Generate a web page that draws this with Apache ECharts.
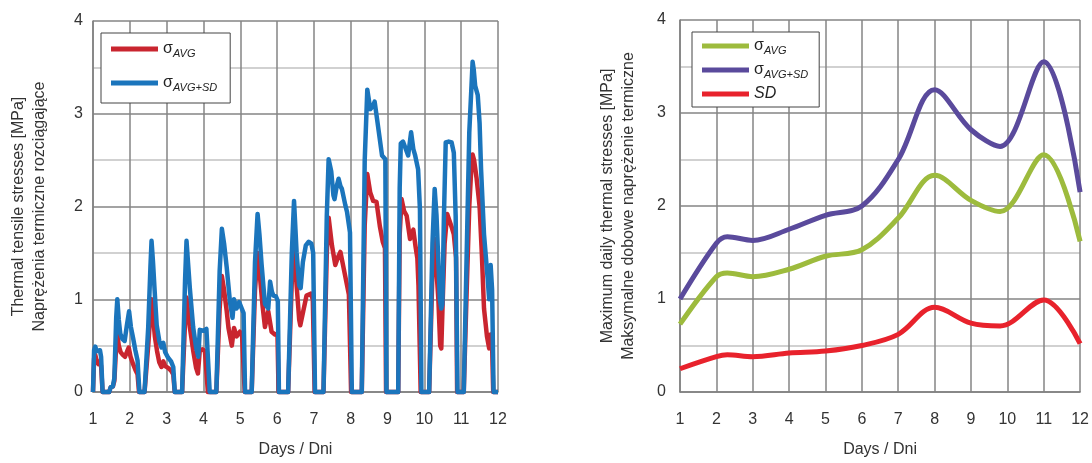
<!DOCTYPE html>
<html><head><meta charset="utf-8">
<script src="https://cdn.jsdelivr.net/npm/echarts@6/dist/echarts.min.js"></script>
<style>html,body{margin:0;padding:0;background:#fff}#c{width:1092px;height:463px}</style>
</head><body><div id="c"></div>
<script>
const dayTicks = [1,2,3,4,5,6,7,8,9,10,11,12];
const yTicks = [0,1,2,3,4];

// Left chart: hourly thermal tensile stresses [day, MPa]
const leftSigmaAvgSd = [
 [1.00,0],[1.03,0.45],[1.06,0.49],[1.10,0.44],[1.15,0.42],[1.19,0.45],[1.22,0.38],[1.26,0],
 [1.44,0],[1.48,0.05],[1.54,0.06],[1.58,0.15],[1.63,0.8],[1.66,1.0],[1.70,0.78],[1.74,0.63],[1.80,0.57],[1.86,0.55],[1.92,0.72],[1.98,0.87],[2.03,0.7],[2.09,0.58],[2.15,0.45],[2.21,0.34],[2.26,0],
 [2.40,0],[2.50,0.7],[2.56,1.35],[2.59,1.63],[2.63,1.4],[2.67,1.12],[2.73,0.72],[2.80,0.55],[2.86,0.48],[2.91,0.53],[2.96,0.43],[3.04,0.37],[3.12,0.33],[3.18,0.27],[3.22,0],
 [3.42,0],[3.50,1.2],[3.54,1.63],[3.58,1.4],[3.63,1.12],[3.72,0.7],[3.80,0.48],[3.86,0.38],[3.90,0.67],[4.00,0.66],[4.08,0.68],[4.13,0.66],[4.17,0],
 [4.35,0],[4.44,1.3],[4.50,1.76],[4.56,1.6],[4.63,1.35],[4.72,0.97],[4.79,0.8],[4.83,1.0],[4.90,0.9],[4.97,0.97],[5.04,0.9],[5.09,0.85],[5.13,0],
 [5.31,0],[5.40,1.4],[5.47,1.92],[5.52,1.7],[5.58,1.37],[5.67,0.95],[5.76,0.9],[5.81,1.19],[5.86,1.08],[5.90,1.04],[5.97,1.03],[6.02,0.98],[6.05,0],
 [6.30,0],[6.40,1.5],[6.46,2.06],[6.53,1.5],[6.60,1.15],[6.64,1.12],[6.70,1.4],[6.78,1.58],[6.86,1.62],[6.93,1.6],[6.98,1.5],[7.03,0],
 [7.26,0],[7.35,1.9],[7.40,2.51],[7.47,2.38],[7.53,2.12],[7.56,2.08],[7.62,2.22],[7.67,2.3],[7.72,2.22],[7.76,2.19],[7.85,2.02],[7.90,1.94],[7.98,1.72],[8.03,0],
 [8.30,0],[8.38,2.5],[8.45,3.26],[8.53,3.05],[8.60,3.08],[8.65,3.13],[8.74,2.87],[8.85,2.55],[8.94,2.51],[8.97,0],
 [9.29,0],[9.33,2.2],[9.36,2.68],[9.42,2.7],[9.47,2.7],[9.56,2.55],[9.64,2.8],[9.70,2.62],[9.75,2.55],[9.83,2.4],[9.88,1.97],[9.92,0],
 [10.13,0],[10.22,1.6],[10.28,2.19],[10.33,1.9],[10.37,1.5],[10.42,1.0],[10.46,0.9],[10.49,0.95],[10.53,1.87],[10.58,2.69],[10.66,2.7],[10.74,2.69],[10.80,2.58],[10.85,1.9],[10.90,0],
 [11.07,0],[11.15,1.5],[11.22,2.8],[11.28,3.3],[11.31,3.56],[11.34,3.48],[11.38,3.3],[11.45,3.2],[11.50,2.9],[11.54,2.4],[11.62,1.7],[11.72,1.22],[11.76,1.0],[11.80,1.37],[11.84,1.1],[11.88,0],[12.00,0]
];
const leftSigmaAvg = [
 [1.00,0],[1.03,0.36],[1.06,0.4],[1.10,0.34],[1.15,0.3],[1.19,0.33],[1.22,0.28],[1.26,0],
 [1.44,0],[1.48,0.05],[1.54,0.06],[1.58,0.12],[1.63,0.5],[1.66,0.62],[1.70,0.5],[1.75,0.43],[1.81,0.4],[1.87,0.38],[1.93,0.44],[1.97,0.48],[2.02,0.38],[2.09,0.3],[2.15,0.24],[2.21,0.19],[2.25,0],
 [2.40,0],[2.50,0.5],[2.56,0.85],[2.59,1.0],[2.63,0.82],[2.68,0.6],[2.74,0.44],[2.80,0.32],[2.86,0.27],[2.91,0.33],[2.96,0.28],[3.04,0.26],[3.12,0.23],[3.18,0.19],[3.22,0],
 [3.42,0],[3.50,0.75],[3.54,1.02],[3.58,0.88],[3.63,0.7],[3.72,0.45],[3.80,0.26],[3.85,0.2],[3.90,0.45],[3.97,0.46],[4.04,0.44],[4.08,0.42],[4.12,0],
 [4.35,0],[4.44,0.9],[4.50,1.25],[4.56,1.1],[4.63,0.88],[4.68,0.69],[4.77,0.5],[4.83,0.69],[4.90,0.6],[4.99,0.65],[5.05,0.6],[5.09,0.58],[5.12,0],
 [5.31,0],[5.40,1.1],[5.47,1.5],[5.54,1.22],[5.60,0.95],[5.67,0.7],[5.76,0.87],[5.85,0.65],[5.94,0.62],[6.01,0.63],[6.04,0],
 [6.30,0],[6.40,1.2],[6.46,1.55],[6.53,1.15],[6.60,0.78],[6.63,0.72],[6.71,0.87],[6.80,1.04],[6.91,1.06],[6.97,1.0],[7.02,0],
 [7.26,0],[7.35,1.5],[7.40,1.88],[7.49,1.58],[7.58,1.37],[7.65,1.45],[7.72,1.51],[7.81,1.33],[7.90,1.15],[7.95,1.05],[8.01,0],
 [8.30,0],[8.38,1.8],[8.45,2.35],[8.53,2.15],[8.61,2.06],[8.70,2.05],[8.79,1.79],[8.87,1.62],[8.93,1.55],[8.96,0],
 [9.29,0],[9.33,1.7],[9.38,2.08],[9.45,1.95],[9.52,1.9],[9.61,1.65],[9.70,1.75],[9.76,1.57],[9.81,1.44],[9.84,1.15],[9.90,0],
 [10.13,0],[10.22,1.3],[10.28,1.65],[10.33,1.3],[10.38,1.0],[10.43,0.5],[10.46,0.47],[10.50,1.0],[10.55,1.6],[10.62,1.92],[10.68,1.85],[10.74,1.78],[10.80,1.7],[10.86,1.45],[10.89,0],
 [11.07,0],[11.15,1.1],[11.22,2.0],[11.28,2.45],[11.31,2.56],[11.35,2.5],[11.42,2.3],[11.50,2.0],[11.56,1.5],[11.62,0.9],[11.70,0.6],[11.76,0.47],[11.80,0.62],[11.84,0.5],[11.87,0],[12.00,0]
];

// Right chart: maximum daily thermal stresses
const rightDays     = [1, 2, 2.3, 3, 4, 5, 6, 7, 8, 9, 9.8, 11, 12];
const rightSigmaAvg   = [0.73,1.24,1.28,1.24,1.32,1.46,1.53,1.87,2.33,2.06,1.94,2.55,1.62];
const rightSigmaAvgSd = [1.00,1.60,1.67,1.63,1.75,1.90,2.00,2.50,3.25,2.82,2.64,3.55,2.15];
const rightSd         = [0.25,0.38,0.40,0.38,0.42,0.44,0.50,0.62,0.91,0.74,0.71,0.99,0.52];

const leftYTitle = 'Thermal tensile stresses [MPa]\nNaprężenia termiczne rozciągające';
const rightYTitle = 'Maximum daily thermal stresses [MPa]\nMaksymalne dobowe naprężenie termiczne';
const xTitle = 'Days / Dni';

const FONT = "'Liberation Sans', Arial, sans-serif";
const pair = (xs, ys) => xs.map((x, i) => [x, ys[i]]);

const legendLabels = {
  'σAVG': '{s|σ}{sub|AVG}',
  'σAVG+SD': '{s|σ}{sub|AVG+SD}',
  'σAVG (max)': '{s|σ}{sub|AVG}',
  'σAVG+SD (max)': '{s|σ}{sub|AVG+SD}',
  'SD (max)': '{it|SD}'
};
const legendRich = {
  s: {fontSize: 16, lineHeight: 20, fontFamily: FONT, color: '#222'},
  sub: {fontSize: 11, lineHeight: 10, fontStyle: 'italic', verticalAlign: 'bottom', fontFamily: FONT, color: '#222'},
  it: {fontSize: 16, lineHeight: 20, fontStyle: 'italic', fontFamily: FONT, color: '#222'}
};

function xAxisCfg(gi) {
  return {
    type: 'value', gridIndex: gi, min: 1, max: 12, interval: 1,
    name: xTitle, nameLocation: 'middle', nameGap: 50,
    nameTextStyle: {fontSize: 16, color: '#333', fontFamily: FONT},
    axisLine: {show: true, onZero: false, lineStyle: {color: '#808080', width: 1.5}},
    axisTick: {show: false},
    axisLabel: {fontSize: 16, color: '#333', fontFamily: FONT, margin: 20},
    splitLine: {show: true, lineStyle: {color: '#858585', width: 1.5}}
  };
}
function yAxisCfg(gi, title, margin, gap) {
  return {
    type: 'value', gridIndex: gi, min: 0, max: 4, interval: 1,
    name: title, nameLocation: 'middle', nameRotate: 90, nameGap: gap,
    nameTextStyle: {fontSize: 16, lineHeight: 21, color: '#333', fontFamily: FONT, align: 'center'},
    axisLine: {show: true, lineStyle: {color: '#808080', width: 1.5}},
    axisTick: {show: false},
    minorTick: {show: false, splitNumber: 2},
    minorSplitLine: {show: true, lineStyle: {color: '#c2c2c2', width: 1.5}},
    axisLabel: {fontSize: 16, color: '#333', fontFamily: FONT, margin: margin},
    splitLine: {show: true, lineStyle: {color: '#858585', width: 1.5}}
  };
}

const chart = echarts.init(document.getElementById('c'), null, {renderer: 'canvas'});
chart.setOption({
  backgroundColor: '#fff',
  animation: false,
  textStyle: {fontFamily: FONT},
  grid: [
    {left: 93, top: 21, width: 405, height: 373},
    {left: 680, top: 20, width: 403, height: 375}
  ],
  xAxis: [xAxisCfg(0), xAxisCfg(1)],
  yAxis: [yAxisCfg(0, leftYTitle, 10, 42.5), yAxisCfg(1, rightYTitle, 14, 40.5)],
  legend: [
    {
      left: 101, top: 33, orient: 'vertical',
      padding: [8, 13, 10, 10], itemGap: 16, itemWidth: 47, itemHeight: 5, icon: 'rect',
      borderColor: '#444', borderWidth: 1, backgroundColor: '#fff',
      data: ['σAVG', 'σAVG+SD'],
      formatter: n => legendLabels[n],
      textStyle: {rich: legendRich}
    },
    {
      left: 692, top: 32, orient: 'vertical',
      padding: [6, 11, 5, 10], itemGap: 6, itemWidth: 47, itemHeight: 5, icon: 'rect',
      borderColor: '#444', borderWidth: 1, backgroundColor: '#fff',
      data: ['σAVG (max)', 'σAVG+SD (max)', 'SD (max)'],
      formatter: n => legendLabels[n],
      textStyle: {rich: legendRich}
    }
  ],
  series: [
    {name: 'σAVG', type: 'line', xAxisIndex: 0, yAxisIndex: 0, data: leftSigmaAvg,
     symbol: 'none', clip: false, color: '#c9252f', lineStyle: {width: 4.5, color: '#c9252f', join: 'round'}, z: 3},
    {name: 'σAVG+SD', type: 'line', xAxisIndex: 0, yAxisIndex: 0, data: leftSigmaAvgSd,
     symbol: 'none', clip: false, color: '#1b75bc', lineStyle: {width: 4.5, color: '#1b75bc', join: 'round'}, z: 4},
    {name: 'σAVG+SD (max)', type: 'line', xAxisIndex: 1, yAxisIndex: 1, data: pair(rightDays, rightSigmaAvgSd),
     symbol: 'none', smooth: 0.35, color: '#5a4a9c', lineStyle: {width: 5, color: '#5a4a9c'}, z: 3},
    {name: 'σAVG (max)', type: 'line', xAxisIndex: 1, yAxisIndex: 1, data: pair(rightDays, rightSigmaAvg),
     symbol: 'none', smooth: 0.35, color: '#9dbb3d', lineStyle: {width: 5, color: '#9dbb3d'}, z: 3},
    {name: 'SD (max)', type: 'line', xAxisIndex: 1, yAxisIndex: 1, data: pair(rightDays, rightSd),
     symbol: 'none', smooth: 0.35, color: '#e8222c', lineStyle: {width: 5, color: '#e8222c'}, z: 3}
  ]
});
</script>
</body></html>
